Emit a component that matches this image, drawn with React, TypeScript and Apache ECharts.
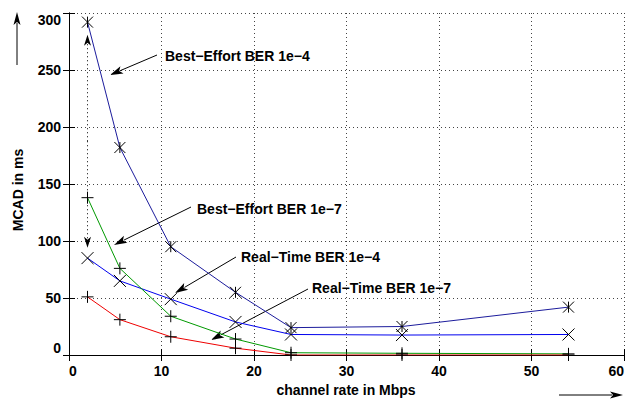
import React, { useEffect, useRef } from "react";
import * as echarts from "echarts";

const rates = [2, 5.5, 11, 18, 24, 36, 54];
const bestEffort4 = [292, 182, 95, 55, 24, 25, 42];
const realTime4 = [85, 65, 49, 29, 18, 17.5, 18];
const bestEffort7 = [138, 76, 34, 14, 2, 1.5, 1];
const realTime7 = [51, 31, 16, 6, 0, 0, 0];

const seriesNames = [
  "Best−Effort BER 1e−4",
  "Real−Time BER 1e−4",
  "Best−Effort BER 1e−7",
  "Real−Time BER 1e−7",
];
const xAxisName = "channel rate in Mbps";
const yAxisName = "MCAD in ms";
const diffArrow = [2, 94, 281]; // x, from y, to y (data units)

const STAR = "path://M0 0L10 10M10 0L0 10M5 0L5 10";
const CROSS = "path://M0 0L10 10M10 0L0 10";
const PLUS = "path://M5 0L5 10M0 5L10 5";

const FONT = "Liberation Sans";

function arrow(x1: number, y1: number, x2: number, y2: number, len: number, w: number, dash?: number[]) {
  const dx = x2 - x1, dy = y2 - y1;
  const L = Math.hypot(dx, dy);
  const ux = dx / L, uy = dy / L;
  const bx = x2 - ux * len, by = y2 - uy * len;
  const px = -uy, py = ux;
  return [
    {
      type: "line",
      silent: true,
      shape: { x1, y1, x2: bx + ux * 2, y2: by + uy * 2 },
      style: { stroke: "#000", lineWidth: 1, lineDash: dash || null },
    },
    {
      type: "polygon",
      silent: true,
      shape: {
        points: [
          [x2, y2],
          [bx + (px * w) / 2, by + (py * w) / 2],
          [bx + ux * 3, by + uy * 3],
          [bx - (px * w) / 2, by - (py * w) / 2],
        ],
      },
      style: { fill: "#000" },
    },
  ];
}

function label(text: string, x: number, y: number) {
  return {
    type: "text",
    silent: true,
    x,
    y,
    style: {
      text,
      fill: "#000",
      fontFamily: FONT,
      fontWeight: "bold",
      fontSize: 14,
      verticalAlign: "middle",
      align: "left",
    },
  };
}

export default function App() {
  const ref = useRef<HTMLDivElement>(null);
  useEffect(() => {
    document.body.style.margin = "0";
    if (!ref.current) return;
    const chart = echarts.init(ref.current, undefined, { renderer: "svg" });
    const mk = (name: string, data: number[], color: string, symbol: string, size: number) => ({
      name,
      type: "line",
      data: rates.map((r, i) => [r, data[i]]),
      symbol,
      symbolSize: size,
      showAllSymbol: true,
      lineStyle: { color, width: 1 },
      itemStyle: { color: "rgba(0,0,0,0)", borderColor: "#000", borderWidth: 1 },
      emphasis: { disabled: true },
      z: 3,
    });
    const axisLabel = {
      color: "#000",
      fontFamily: FONT,
      fontWeight: "bold",
      fontSize: 14,
    };
    chart.setOption({
      animation: false,
      grid: { left: 69, right: 14, top: 13, bottom: 44 },
      xAxis: [
        {
          type: "value",
          min: 0,
          max: 60,
          interval: 10,
          axisLine: { show: true, lineStyle: { color: "#000", width: 1 } },
          axisTick: { show: true, inside: true, length: 6, lineStyle: { color: "#000" } },
          axisLabel: { ...axisLabel, margin: 9, alignMinLabel: "left", alignMaxLabel: "right" },
          splitLine: { show: true, lineStyle: { color: "#444", type: [1, 3], width: 1 } },
        },
        {
          type: "value",
          position: "top",
          min: 0,
          max: 60,
          interval: 10,
          axisLine: { show: true, lineStyle: { color: "#000", width: 1 } },
          axisTick: { show: true, inside: true, length: 6, lineStyle: { color: "#000" } },
          axisLabel: { show: false },
          splitLine: { show: false },
        },
      ],
      yAxis: [
        {
          type: "value",
          min: 0,
          max: 300,
          interval: 50,
          axisLine: { show: true, lineStyle: { color: "#000", width: 1 } },
          axisTick: { show: true, inside: true, length: 6, lineStyle: { color: "#000" } },
          axisLabel: { ...axisLabel, margin: 8, verticalAlignMinLabel: "bottom", verticalAlignMaxLabel: "top" },
          splitLine: { show: true, lineStyle: { color: "#444", type: [1, 3], width: 1 } },
        },
        {
          type: "value",
          position: "right",
          min: 0,
          max: 300,
          interval: 50,
          axisLine: { show: true, lineStyle: { color: "#000", width: 1 } },
          axisTick: { show: true, inside: true, length: 6, lineStyle: { color: "#000" } },
          axisLabel: { show: false },
          splitLine: { show: false },
        },
      ],
      series: [
        mk(seriesNames[0], bestEffort4, "#1c1c9c", STAR, 11),
        mk(seriesNames[1], realTime4, "#0000ee", CROSS, 12),
        mk(seriesNames[2], bestEffort7, "#009900", PLUS, 12),
        mk(seriesNames[3], realTime7, "#ee0000", PLUS, 12),
      ],
    });
    const p1 = chart.convertToPixel({ gridIndex: 0 }, [diffArrow[0], (diffArrow[1] + diffArrow[2]) / 2]) as number[];
    const pLow = chart.convertToPixel({ gridIndex: 0 }, [diffArrow[0], diffArrow[1]]) as number[];
    const pHigh = chart.convertToPixel({ gridIndex: 0 }, [diffArrow[0], diffArrow[2]]) as number[];
    const elements: any[] = [
      ...arrow(p1[0], p1[1], pHigh[0], pHigh[1], 11, 7, [1, 3]),
      ...arrow(p1[0], p1[1], pLow[0], pLow[1], 11, 7, [1, 3]),
      ...arrow(157, 55, 110, 75, 13, 8),
      ...arrow(191, 207, 114, 245, 13, 8),
      ...arrow(236, 257, 175, 293, 13, 8),
      ...arrow(308, 289, 211, 340, 13, 8),
      ...arrow(17, 65, 17, 12, 13, 7),
      ...arrow(559, 395, 623, 395, 13, 7),
      label(seriesNames[0], 165, 56),
      label(seriesNames[2], 197, 209),
      label(seriesNames[1], 241, 257),
      label(seriesNames[3], 312, 288),
      {
        type: "text",
        silent: true,
        x: 18,
        y: 190,
        rotation: Math.PI / 2,
        style: {
          text: yAxisName,
          fill: "#000",
          fontFamily: FONT,
          fontWeight: "bold",
          fontSize: 14,
          align: "center",
          verticalAlign: "middle",
        },
      },
      {
        type: "text",
        silent: true,
        x: 346,
        y: 390,
        style: {
          text: xAxisName,
          fill: "#000",
          fontFamily: FONT,
          fontWeight: "bold",
          fontSize: 14,
          align: "center",
          verticalAlign: "middle",
        },
      },
    ];
    chart.setOption({ graphic: { elements } });
    return () => chart.dispose();
  }, []);
  return <div ref={ref} style={{ width: 638, height: 399 }} />;
}
